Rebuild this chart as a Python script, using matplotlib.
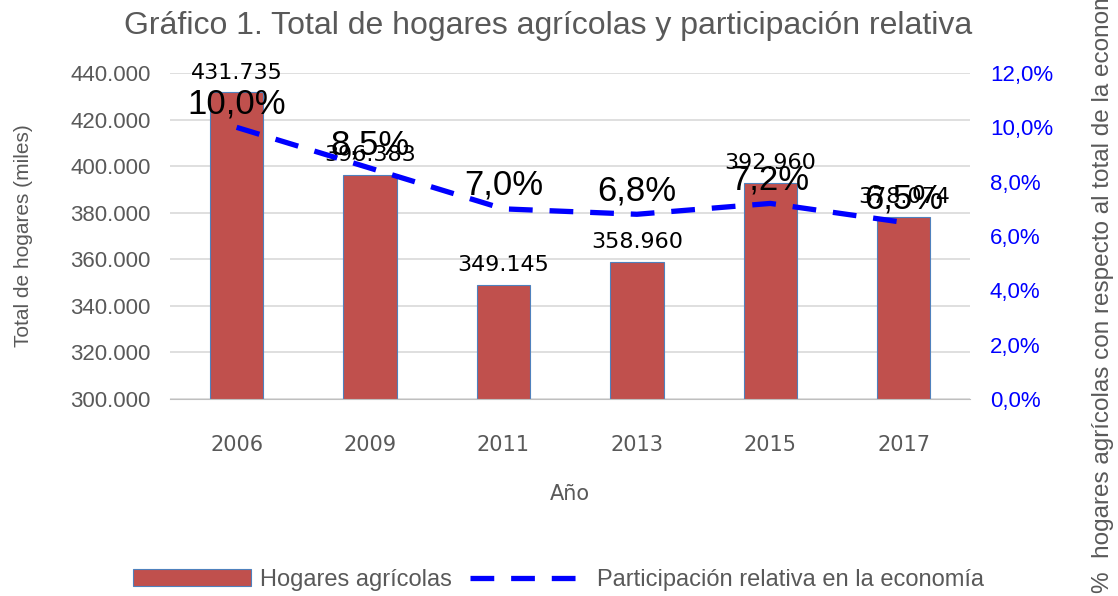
import matplotlib.pyplot as plt
import numpy as np

anios = ['2006', '2009', '2011', '2013', '2015', '2017']
hogares = [431735, 396383, 349145, 358960, 392960, 378074]
hogares_txt = ['431.735', '396.383', '349.145', '358.960', '392.960', '378.074']
participacion = [10.0, 8.5, 7.0, 6.8, 7.2, 6.5]
part_txt = ['10,0%', '8,5%', '7,0%', '6,8%', '7,2%', '6,5%']

gris = '#595959'
fig = plt.figure(figsize=(11.18, 5.96), dpi=100)
ax = fig.add_axes([0.152, 0.3305, 0.716, 0.547])
x = np.arange(len(anios))

ax.bar(x, hogares, width=0.4, color='#c0504d', edgecolor='#4f81bd', linewidth=0.8,
       label='Hogares agrícolas', zorder=2)
ax.set_ylim(300000, 440000)
ax.set_yticks(np.arange(300000, 440001, 20000))
ax.set_yticklabels([f'{v:,}'.replace(',', '.') for v in range(300000, 440001, 20000)],
                   fontsize=16, color=gris, family='Liberation Sans')
ax.set_xlim(-0.5, len(anios) - 0.5)
ax.set_xticks(x)
ax.set_xticklabels(anios, fontsize=15, color=gris)
ax.grid(axis='y', color='#d9d9d9', linewidth=1.2, zorder=0)
ax.set_axisbelow(True)
for s in ['top', 'right', 'left']:
    ax.spines[s].set_visible(False)
ax.spines['bottom'].set_color('#bfbfbf')
ax.tick_params(axis='y', length=0, pad=14)
ax.tick_params(axis='x', length=0, pad=26)
ax.set_xlabel('Año', fontsize=15, color=gris)
ax.xaxis.set_label_coords(0.5, -0.26)
ax.set_ylabel('Total de hogares (miles)', fontsize=15, color=gris, family='Liberation Sans')
ax.yaxis.set_label_coords(-0.171, 0.5)

for xi, v, t in zip(x, hogares, hogares_txt):
    ax.annotate(t, (xi, v), xytext=(0, 7), textcoords='offset points',
                ha='center', va='bottom', fontsize=16, color='black')

ax2 = ax.twinx()
ax2.plot(x, participacion, color='blue', linewidth=3.8, dashes=(4.5, 3.2),
         label='Participación relativa en la economía', zorder=3)
ax2.set_ylim(0, 12)
ax2.set_yticks(np.arange(0, 12.1, 2))
ax2.set_yticklabels([f'{v:.1f}%'.replace('.', ',') for v in np.arange(0, 12.1, 2)],
                    fontsize=16, color='blue', family='Liberation Sans')
for s in ['top', 'right', 'left', 'bottom']:
    ax2.spines[s].set_visible(False)
ax2.tick_params(axis='y', length=0, pad=14)
for xi, v, t in zip(x, participacion, part_txt):
    ax2.annotate(t, (xi, v), xytext=(0, 5), textcoords='offset points',
                 ha='center', va='bottom', fontsize=25, color='black', family='Liberation Sans')

fig.text(0.987, 0.005, '%  hogares agrícolas con respecto al total de la economía', rotation=90,
         ha='center', va='bottom', fontsize=17.5, color=gris, family='Liberation Sans')

fig.suptitle('Gráfico 1. Total de hogares agrícolas y participación relativa', x=0.49, y=0.982,
             fontsize=23, color=gris, family='Liberation Sans')

h1, l1 = ax.get_legend_handles_labels()
h2, l2 = ax2.get_legend_handles_labels()
fig.legend(h1 + h2, l1 + l2, loc='center', bbox_to_anchor=(0.4995, 0.027), ncol=2, frameon=False,
           prop={'family': 'Liberation Sans', 'size': 17}, labelcolor=gris,
           handlelength=5.0, columnspacing=0.8, handletextpad=0.35)

fig.savefig('out.png', dpi=100)
